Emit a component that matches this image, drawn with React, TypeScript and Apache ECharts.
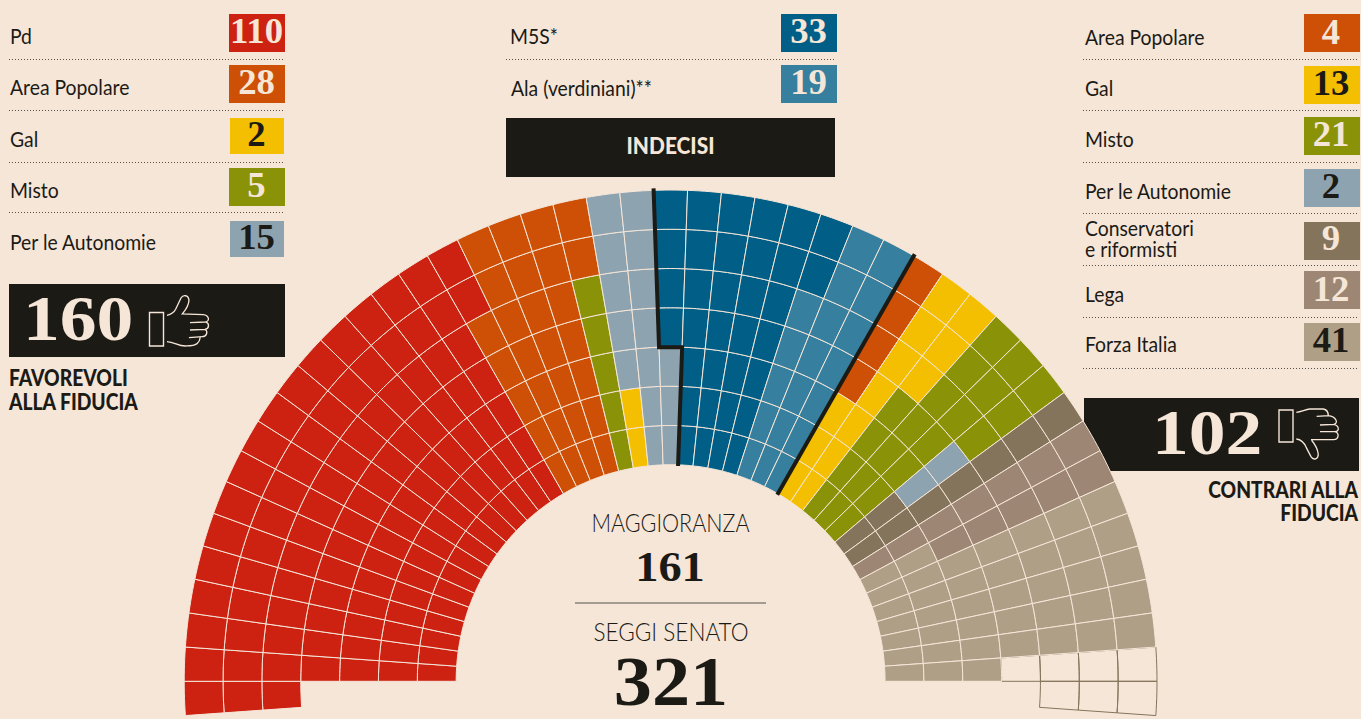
import React, { useEffect, useRef } from "react";
import * as echarts from "echarts";

const BG = "#f5e6d8";
const INK = "#1c1a15";
const CREAM = "#f5e6d8";
const SANS = "Lato";
const SERIF = "'Liberation Serif'";

const partyColors: Record<string, string> = {
  Pd: "#cd2212",
  AP: "#ce5006",
  Gal: "#f4bf00",
  Misto: "#8a9307",
  Aut: "#8ea3b0",
  M5S: "#015e87",
  Ala: "#367f9f",
  Cons: "#85745c",
  Lega: "#9d8674",
  FI: "#b09f87",
};

// Seats per ring, from the left (one column sits below the horizontal at each end)
const ring6: [string, number][] = [["Pd",17],["AP",4],["Aut",2],["M5S",6],["Ala",2],["AP",1],["Gal",2],["Misto",3],["Cons",1],["Lega",2],["FI",5],["libero",2]];
const ring5: [string, number][] = [["Pd",17],["AP",4],["Aut",2],["M5S",6],["Ala",2],["AP",1],["Gal",2],["Misto",3],["Cons",1],["Lega",2],["FI",5],["libero",2]];
const ring4: [string, number][] = [["Pd",16],["AP",4],["Misto",1],["Aut",2],["M5S",5],["Ala",3],["AP",1],["Gal",2],["Misto",3],["Cons",1],["Lega",2],["FI",5],["libero",2]];
const ring3: [string, number][] = [["",1],["Pd",15],["AP",4],["Misto",1],["Aut",2],["M5S",5],["Ala",3],["AP",1],["Gal",1],["Misto",3],["Aut",1],["Cons",1],["Lega",2],["FI",5],["libero",1]];
const ring2: [string, number][] = [["",1],["Pd",15],["AP",4],["Misto",1],["Aut",3],["M5S",4],["Ala",3],["Gal",2],["Misto",3],["Aut",1],["Cons",1],["Lega",2],["FI",6]];
const ring1: [string, number][] = [["",1],["Pd",15],["AP",4],["Misto",1],["Gal",1],["Aut",2],["M5S",4],["Ala",3],["Gal",2],["Misto",3],["Cons",2],["Lega",1],["FI",7]];
const ring0: [string, number][] = [["",1],["Pd",15],["AP",4],["Misto",1],["Gal",1],["Aut",2],["M5S",4],["Ala",3],["Gal",2],["Misto",3],["Cons",2],["Lega",1],["FI",7]];
const rings = [ring0, ring1, ring2, ring3, ring4, ring5, ring6];

// Group dividers as [ring, column] vertices
const dividerLeft = [[7.05, 23], [3, 23], [3, 24], [-0.03, 24]];
const dividerRight = [[7.05, 31], [-0.03, 31]];

const favNames = ["Pd", "Area Popolare", "Gal", "Misto", "Per le Autonomie"];
const favValues = ["110", "28", "2", "5", "15"];
const favKeys = ["Pd", "AP", "Gal", "Misto", "Aut"];
const undNames = ["M5S*", "Ala (verdiniani)**"];
const undValues = ["33", "19"];
const undKeys = ["M5S", "Ala"];
const conNames = ["Area Popolare", "Gal", "Misto", "Per le Autonomie", "Conservatori\ne riformisti", "Lega", "Forza Italia"];
const conValues = ["4", "13", "21", "2", "9", "12", "41"];
const conKeys = ["AP", "Gal", "Misto", "Aut", "Cons", "Lega", "FI"];
const darkDigits = ["Gal", "Aut", "FI"];

const INNER = 214.5 / 38.86; // inner radius in ring widths
const K = 1.01; // the hemicycle is very slightly taller than wide

const HAND_UP = "M66 76 C80 73 88 66 92 58 L108 24 C114 14 130 14 132 30 C132 42 122 60 112 72 L175 74 C192 76 196 93 182 96 L135 98 M182 96 C194 100 194 116 180 118 L135 120 M180 118 C190 124 186 140 172 140 L132 143 M166 142 C164 158 156 168 125 168 C100 170 90 156 66 155";
const HAND_DOWN = "M64 22 C80 20 90 14 105 12 L145 12 C156 14 160 24 160 32 L125 34 M160 32 C184 34 192 56 176 58 L135 60 M176 58 C194 62 194 80 180 80 L135 80 M180 80 C194 84 192 104 176 104 L108 104 M64 102 C82 104 90 118 94 128 L108 155 C116 168 130 162 130 148 C128 132 120 118 110 106";
echarts.graphic.registerShape("handUp", echarts.graphic.extendPath(HAND_UP, {}));
echarts.graphic.registerShape("handDown", echarts.graphic.extendPath(HAND_DOWN, {}));

function txt(text: string, x: number, bottom: number, size: number, o: any = {}) {
  return {
    type: "text",
    x,
    y: bottom,
    scaleX: o.sx ?? 1,
    z: 10,
    silent: true,
    style: {
      text,
      fill: o.fill ?? INK,
      fontFamily: o.font ?? SANS,
      fontWeight: o.weight ?? 400,
      fontSize: size,
      align: o.align ?? "left",
      verticalAlign: "bottom",
    },
  };
}

function nameLabel(t: string, x: number, base: number) {
  return txt(t, x, base + 3, 21.5, { sx: 0.9 });
}
function boxNum(t: string, cx: number, base: number, key: string) {
  return txt(t, cx, base + 6, 35, {
    font: SERIF,
    weight: 700,
    align: "center",
    sx: 1.05,
    fill: darkDigits.includes(key) ? INK : CREAM,
  });
}
function heading(t: string, x: number, base: number, align = "left", fill = INK, sx = 0.875) {
  return txt(t, x, base + 3, 22, { weight: 900, align, fill, sx });
}
function dots(x1: number, x2: number, y: number) {
  return {
    type: "line",
    silent: true,
    shape: { x1, y1: y + 0.5, x2, y2: y + 0.5 },
    style: { stroke: "#55514a", lineWidth: 1, lineDash: [1, 2] },
  };
}
function box(x: number, y: number, w: number, h: number, fill: string) {
  return { type: "rect", silent: true, shape: { x, y, width: w, height: h }, style: { fill } };
}

function buildGraphic() {
  const g: any[] = [];
  // left
  const lBox = [[229, 14, 56, 38], [229, 65, 56, 38], [230, 118, 54, 36], [229, 168, 56, 38], [230, 221, 54, 36]];
  const lBase = [44, 95, 147, 198, 250];
  const lNum = [43, 94, 146, 197, 249];
  favNames.forEach((n, i) => {
    const b = lBox[i];
    g.push(box(b[0], b[1], b[2], b[3], partyColors[favKeys[i]]));
    g.push(nameLabel(n, 10, lBase[i]));
    g.push(boxNum(favValues[i], 256.5, lNum[i], favKeys[i]));
  });
  [59, 110, 162, 212].forEach((y) => g.push(dots(9, 284, y)));
  g.push(box(9, 284, 276, 73, INK));
  g.push(txt("160", 23, 341 + 10, 64, { font: SERIF, weight: 700, fill: CREAM, sx: 1.15 }));
  g.push({ type: "rect", silent: true, shape: { x: 149.5, y: 312.5, width: 14, height: 33.5 }, style: { fill: "none", stroke: CREAM, lineWidth: 1.4 } });
  g.push({ type: "handUp", x: 145, y: 290, scaleX: 1 / 3, scaleY: 1 / 3, silent: true, style: { fill: "none", stroke: CREAM, lineWidth: 4 } });
  g.push(heading("FAVOREVOLI", 9, 385));
  g.push(heading("ALLA FIDUCIA", 9, 409));

  // centre
  undNames.forEach((n, i) => {
    g.push(box(781, i ? 65 : 14, 56, 38, partyColors[undKeys[i]]));
    g.push(nameLabel(n, i ? 511 : 510, i ? 96 : 44));
    g.push(boxNum(undValues[i], 808.5, i ? 94 : 43, undKeys[i]));
  });
  g.push(dots(506, 836, 59));
  g.push(box(506, 118, 329, 59, INK));
  g.push(heading("INDECISI", 670.5, 154, "center", CREAM, 0.95));

  // right
  const rBoxY = [14, 66, 117, 169, 222, 271, 323];
  const rBase = [45, 96, 147, 199, 0, 302, 352];
  const rNum = [44, 95, 146, 198, 250, 301, 352];
  conNames.forEach((n, i) => {
    g.push(box(1304, rBoxY[i], 56, 38, partyColors[conKeys[i]]));
    if (n.includes("\n")) {
      const [a, b] = n.split("\n");
      g.push(nameLabel(a, 1085, 236));
      g.push(nameLabel(b, 1085, 257));
    } else {
      g.push(nameLabel(n, 1085, rBase[i]));
    }
    g.push(boxNum(conValues[i], 1331, rNum[i], conKeys[i]));
  });
  [59, 110, 162, 213, 265, 317, 368].forEach((y) => g.push(dots(1083, 1359, y)));
  g.push(box(1084, 398, 275, 73, INK));
  g.push(txt("102", 1152, 454 + 11, 64, { font: SERIF, weight: 700, fill: CREAM, sx: 1.15 }));
  g.push({ type: "rect", silent: true, shape: { x: 1279, y: 410, width: 14, height: 32 }, style: { fill: "none", stroke: CREAM, lineWidth: 1.4 } });
  g.push({ type: "handDown", x: 1275, y: 405, scaleX: 1 / 3, scaleY: 1 / 3, silent: true, style: { fill: "none", stroke: CREAM, lineWidth: 4 } });
  g.push(heading("CONTRARI ALLA", 1358, 497, "right"));
  g.push(heading("FIDUCIA", 1358, 520, "right"));

  // middle of the hemicycle
  g.push(txt("MAGGIORANZA", 670.5, 532 + 3, 24.5, { weight: 300, align: "center", sx: 0.88 }));
  g.push(txt("161", 670, 581 + 7, 43, { font: SERIF, weight: 700, align: "center", sx: 1.08 }));
  g.push({ type: "line", silent: true, shape: { x1: 575, y1: 603, x2: 766, y2: 603 }, style: { stroke: "#555048", lineWidth: 1 } });
  g.push(txt("SEGGI SENATO", 671, 641 + 3, 24.5, { weight: 300, align: "center", sx: 0.92 }));
  g.push(txt("321", 671, 705 + 12, 70, { font: SERIF, weight: 700, align: "center", sx: 1.09 }));
  return g;
}

function seatData() {
  const empties: number[][] = [];
  const seats: any[] = [];
  rings.forEach((runs, ring) => {
    let col = 0;
    runs.forEach(([party, n]) => {
      for (let i = 0; i < n; i++, col++) {
        if (party === "libero") empties.push([col, ring, 0]);
        else if (party) seats.push({ value: [col, ring, 1], party });
      }
    });
  });
  return [...empties, ...seats];
}

export default function App() {
  const ref = useRef<HTMLDivElement>(null);
  useEffect(() => {
    document.body.style.margin = "0";
    document.body.style.background = BG;
    const chart = echarts.init(ref.current!, undefined, { renderer: "svg" });
    const data = seatData();
    const project = (api: any, ringVal: number, colVal: number) => {
      const c = api.coord([0, 0]);
      const p = api.coord([INNER + ringVal, colVal]);
      return [p[0], c[1] + (p[1] - c[1]) * K];
    };
    chart.setOption({
      animation: false,
      backgroundColor: BG,
      polar: { center: [670.6, 681.3], radius: 486.4 },
      angleAxis: {
        type: "value",
        min: 0,
        max: 90,
        startAngle: 184,
        clockwise: true,
        axisLine: { show: false },
        axisTick: { show: false },
        axisLabel: { show: false },
        splitLine: { show: false },
      },
      radiusAxis: {
        type: "value",
        min: 0,
        max: INNER + 7,
        axisLine: { show: false },
        axisTick: { show: false },
        axisLabel: { show: false },
        splitLine: { show: false },
      },
      tooltip: { show: false },
      graphic: buildGraphic(),
      series: [
        {
          type: "custom",
          coordinateSystem: "polar",
          silent: true,
          clip: false,
          encode: { angle: 0, radius: 1 },
          data,
          renderItem: (params: any, api: any) => {
            const col = api.value(0);
            const ring = api.value(1);
            const filled = api.value(2) === 1;
            const party = (data[params.dataIndex] as any).party;
            const pts: number[][] = [];
            const STEPS = 6;
            for (let s = 0; s <= STEPS; s++) pts.push(project(api, ring, col + s / STEPS));
            for (let s = STEPS; s >= 0; s--) pts.push(project(api, ring + 1, col + s / STEPS));
            return {
              type: "polygon",
              shape: { points: pts },
              style: filled
                ? { fill: partyColors[party], stroke: BG, lineWidth: 1 }
                : { fill: "none", stroke: "#85745c", lineWidth: 1 },
            };
          },
        },
        {
          type: "custom",
          coordinateSystem: "polar",
          silent: true,
          clip: false,
          z: 5,
          data: [[0, 0], [1, 0]],
          encode: { angle: 0, radius: 1 },
          renderItem: (params: any, api: any) => {
            const verts = params.dataIndex === 0 ? dividerLeft : dividerRight;
            return {
              type: "polyline",
              shape: { points: verts.map((v) => project(api, v[0], v[1])) },
              style: { fill: "none", stroke: INK, lineWidth: 4, lineJoin: "miter" },
            };
          },
        },
      ],
    });
    return () => chart.dispose();
  }, []);
  return <div ref={ref} style={{ width: 1361, height: 719 }} />;
}
